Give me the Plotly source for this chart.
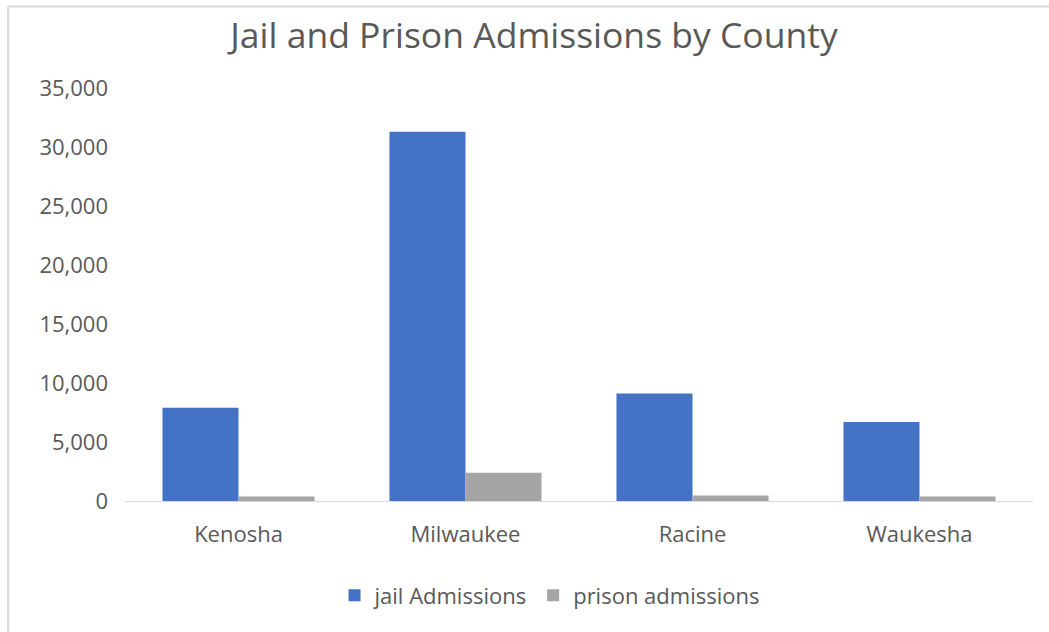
import plotly.graph_objects as go

counties = ["Kenosha", "Milwaukee", "Racine", "Waukesha"]
jail_admissions = [7900, 31300, 9100, 6700]
prison_admissions = [380, 2400, 470, 390]
y_ticks = [0, 5000, 10000, 15000, 20000, 25000, 30000, 35000]
y_tick_labels = ["0", "5,000", "10,000", "15,000", "20,000", "25,000", "30,000", "35,000"]

TEXT = "#595959"
FONT = "Open Sans"

fig = go.Figure()
fig.add_trace(go.Bar(name="jail Admissions", x=counties, y=jail_admissions,
                     marker=dict(color="#4472C4", line=dict(width=0))))
fig.add_trace(go.Bar(name="prison admissions", x=counties, y=prison_admissions,
                     marker=dict(color="#A5A5A5", line=dict(width=0))))

W, H = 1049, 632
L, R, T, B = 124.5, 1033.5, 88, 501.5
pw, ph = R - L, B - T

def px_x(x):
    return (x - L) / pw

def px_y(y):
    return (B - y) / ph

fig.update_layout(
    width=W, height=H,
    margin=dict(l=L, r=W - R, t=T, b=H - B, pad=0),
    paper_bgcolor="white", plot_bgcolor="white",
    barmode="group", bargap=0.33, bargroupgap=0,
    font=dict(family=FONT, color=TEXT, size=22),
    title=dict(text="Jail and Prison Admissions by County",
               font=dict(family=FONT, size=35.5, color=TEXT),
               x=534 / W, xref="container", xanchor="center",
               y=1 - 36 / H, yref="container", yanchor="middle"),
    showlegend=True,
    legend=dict(orientation="h", x=px_x(549.5), xanchor="center",
                y=px_y(596), yanchor="middle",
                font=dict(family=FONT, size=22, color=TEXT),
                itemwidth=30, traceorder="normal"),
    xaxis=dict(showgrid=False, showline=True, linecolor="#D9D9D9", linewidth=1,
               ticks="", ticklabelstandoff=14, tickfont=dict(size=22, color=TEXT)),
    yaxis=dict(range=[0, 35000], tickvals=y_ticks, ticktext=y_tick_labels,
               showgrid=False, zeroline=False, showline=False, ticks="",
               ticklabelstandoff=16, tickfont=dict(size=22, color=TEXT)),
    shapes=[
        dict(type="line", xref="paper", yref="paper",
             x0=px_x(7.5), x1=px_x(W + 10), y0=px_y(6.5), y1=px_y(6.5),
             line=dict(color="#D9D9D9", width=2)),
        dict(type="line", xref="paper", yref="paper",
             x0=px_x(7.5), x1=px_x(7.5), y0=px_y(6.5), y1=px_y(H + 10),
             line=dict(color="#D9D9D9", width=2)),
    ],
)

fig.write_html("out.html")
